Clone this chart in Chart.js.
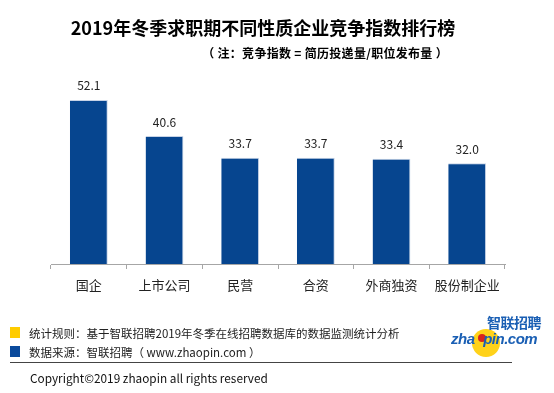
<!DOCTYPE html>
<html>
<head>
<meta charset="utf-8">
<script src="https://cdn.jsdelivr.net/npm/chart.js@4.4.1/dist/chart.umd.min.js"></script>
<style>
  body { margin: 0; background: #fff; font-family: "Noto Sans CJK SC", "Noto Sans", sans-serif; }
  #wrap { position: relative; width: 554px; height: 393px; overflow: hidden; }
  #myChart { position: absolute; left: 0; top: 0; }
  .txt { position: absolute; white-space: nowrap; color: #000; }
  .sq { position: absolute; width: 10px; height: 11px; }
</style>
</head>
<body>
<div id="wrap">
  <canvas id="myChart" width="554" height="393"></canvas>
  <div class="txt" style="left:0;width:526px;text-align:center;top:14px;font-size:18px;font-weight:bold;">2019年冬季求职期不同性质企业竞争指数排行榜</div>
  <div class="txt" style="right:106px;top:44px;font-size:12px;font-weight:bold;letter-spacing:0.3px;">（ 注：竞争指数 = 简历投递量/职位发布量 ）</div>

  <div class="sq" style="left:10px;top:327px;background:#ffcc00;"></div>
  <div class="txt" style="left:29px;top:325px;font-size:11.5px;color:#222;">统计规则：基于智联招聘2019年冬季在线招聘数据库的数据监测统计分析</div>
  <div class="sq" style="left:10px;top:346px;background:#0a4a9c;"></div>
  <div class="txt" style="left:29px;top:344px;font-size:11.5px;color:#222;">数据来源：智联招聘（ www.zhaopin.com ）</div>
  <div style="position:absolute;left:10px;top:362px;width:502px;height:1px;background:#444;"></div>
  <div class="txt" style="left:30px;top:369px;font-size:11.8px;color:#111;">Copyright©2019 zhaopin all rights reserved</div>

  <!-- logo -->
  <div style="position:absolute;left:472px;top:329px;width:28px;height:28px;border-radius:50%;background:#ffd21a;"></div>
  <div style="position:absolute;left:478px;top:334px;width:8px;height:8px;border-radius:50%;background:#d9251c;"></div>
  <div class="txt" style="left:487px;top:312px;font-size:14px;font-weight:bold;color:#1a5fb4;letter-spacing:-0.5px;">智联招聘</div>
  <div class="txt" style="left:451px;top:330px;font-size:15px;font-weight:bold;font-style:italic;color:#1a5fb4;letter-spacing:-0.5px;font-family:'Liberation Sans',sans-serif;">zha<span style="color:transparent">o</span>pin.com</div>
</div>
<script>
// chart data
const categories = ['国企', '上市公司', '民营', '合资', '外商独资', '股份制企业'];
const indexValues = [52.1, 40.6, 33.7, 33.7, 33.4, 32.0];

// draw value above each bar
const valueLabels = {
    id: 'valueLabels',
    afterDatasetsDraw(chart) {
        const ctx = chart.ctx;
        const meta = chart.getDatasetMeta(0);
        ctx.save();
        ctx.font = '12px "Noto Sans CJK SC", sans-serif';
        ctx.fillStyle = '#222';
        ctx.textAlign = 'center';
        ctx.textBaseline = 'middle';
        meta.data.forEach((bar, i) => {
            ctx.fillText(indexValues[i].toFixed(1), bar.x, bar.y - 14);
        });
        ctx.restore();
    }
};

const canva = document.getElementById('myChart').getContext('2d');
const myChart = new Chart(canva, {
    type: 'bar',
    data: {
        labels: categories,
        datasets: [{
            data: indexValues,
            backgroundColor: '#06458f',
            borderColor: '#c7d3e6',
            borderWidth: { top: 1, left: 0, right: 1, bottom: 0 },
            barPercentage: 0.5,
            categoryPercentage: 1
        }]
    },
    options: {
        responsive: false,
        animation: false,
        layout: { padding: { left: 51, right: 49, top: 75, bottom: 89 } },
        plugins: { legend: { display: false }, tooltip: { enabled: false } },
        scales: {
            x: {
                afterFit: s => { s.height = 40; },
                grid: { drawOnChartArea: false, drawTicks: true, tickLength: 5, color: '#a6a6a6', offset: true },
                border: { color: '#a6a6a6' },
                ticks: { color: '#222', font: { size: 13, family: '"Noto Sans CJK SC", sans-serif' }, padding: 8 }
            },
            y: {
                display: false,
                min: 0,
                max: 60
            }
        }
    },
    plugins: [valueLabels]
});
</script>
</body>
</html>
